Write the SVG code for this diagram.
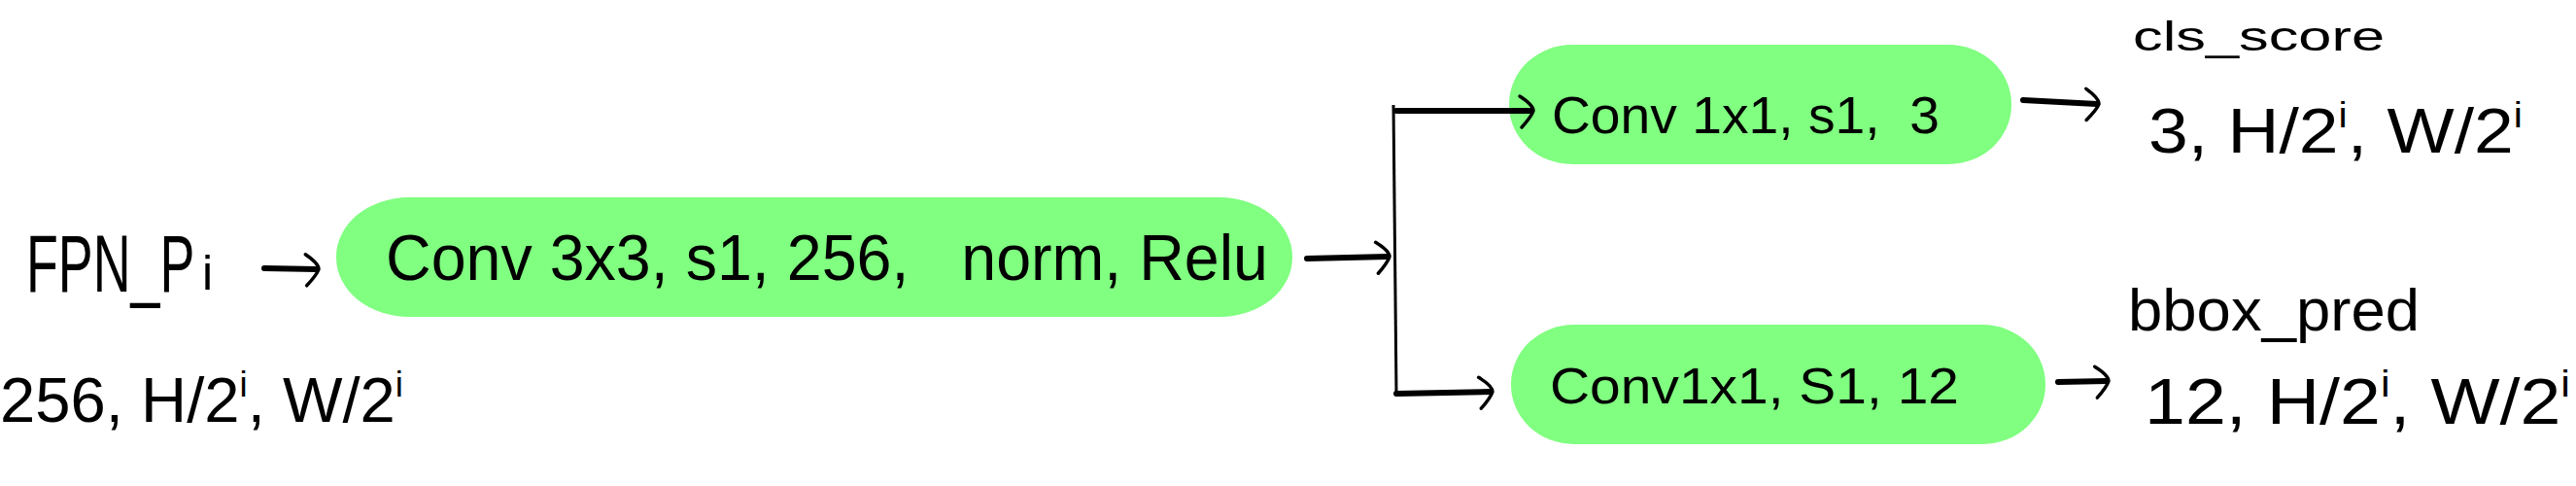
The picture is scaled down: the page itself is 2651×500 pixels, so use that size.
<svg xmlns="http://www.w3.org/2000/svg" width="2651" height="500" viewBox="0 0 2651 500">
<style>
.box{fill:#80FF80;stroke:none}
.t{font-family:"Liberation Sans","DejaVu Sans",sans-serif;fill:#000}
.ln{fill:none;stroke:#000;stroke-width:6;stroke-linecap:round}
.vl{fill:none;stroke:#000;stroke-width:3}
</style>
<defs>
<marker id="ah" viewBox="-20 -20 30 40" refX="0" refY="0" markerWidth="30" markerHeight="40" markerUnits="userSpaceOnUse" orient="auto">
<path d="M-12,-15 Q2,-6 2,0 Q0,6 -10,17" fill="none" stroke="#000" stroke-width="3.5" stroke-linecap="round"/>
</marker>
</defs>
<rect width="2651" height="500" fill="#fff"/>
<g id="input">
<text class="t" x="0" y="0" font-size="84" transform="translate(27,300) scale(0.64,1)">FPN_P</text>
<text class="t" x="208" y="298" font-size="50">i</text>
<text class="t" x="0" y="434" font-size="64" textLength="415" lengthAdjust="spacingAndGlyphs">256, H/2<tspan font-size="36" dy="-26">i</tspan><tspan dy="26">, W/2</tspan><tspan font-size="36" dy="-26">i</tspan></text>
</g>
<g id="conv3x3">
<rect class="box" x="346" y="203" width="984" height="123" rx="75" ry="61"/>
<text class="t" x="397" y="288" font-size="66" textLength="908" lengthAdjust="spacingAndGlyphs" xml:space="preserve">Conv 3x3, s1, 256,   norm, Relu</text>
</g>
<g id="cls_conv">
<rect class="box" x="1553" y="46" width="517" height="123" rx="65" ry="61"/>
<text class="t" x="1597" y="137" font-size="54" textLength="399" lengthAdjust="spacingAndGlyphs" xml:space="preserve">Conv 1x1, s1,  3</text>
</g>
<g id="reg_conv">
<rect class="box" x="1555" y="334" width="550" height="123" rx="65" ry="61"/>
<text class="t" x="1595" y="415" font-size="52" textLength="421" lengthAdjust="spacingAndGlyphs">Conv1x1, S1, 12</text>
</g>
<g id="cls_out">
<text class="t" x="2195" y="52" font-size="42" textLength="259" lengthAdjust="spacingAndGlyphs">cls_score</text>
<text class="t" x="2211" y="157" font-size="64" textLength="385" lengthAdjust="spacingAndGlyphs">3, H/2<tspan font-size="36" dy="-26">i</tspan><tspan dy="26">, W/2</tspan><tspan font-size="36" dy="-26">i</tspan></text>
</g>
<g id="reg_out">
<text class="t" x="2190" y="340" font-size="62" textLength="300" lengthAdjust="spacingAndGlyphs">bbox_pred</text>
<text class="t" x="2207" y="436" font-size="66" textLength="438" lengthAdjust="spacingAndGlyphs">12, H/2<tspan font-size="38" dy="-28">i</tspan><tspan dy="28">, W/2</tspan><tspan font-size="38" dy="-28">i</tspan></text>
</g>
<g id="connectors">
<path class="ln" d="M272,276 L326,277" marker-end="url(#ah)"/>
<path class="ln" d="M1345,266 L1428,264" marker-end="url(#ah)"/>
<path class="vl" d="M1434,108 L1437,406"/>
<path class="ln" d="M1437,114 L1576,114" marker-end="url(#ah)"/>
<path class="ln" d="M1437,405 L1534,403" marker-end="url(#ah)"/>
<path class="ln" d="M2082,103 L2158,107" marker-end="url(#ah)"/>
<path class="ln" d="M2118,393 L2168,392" marker-end="url(#ah)"/>
</g>
</svg>
